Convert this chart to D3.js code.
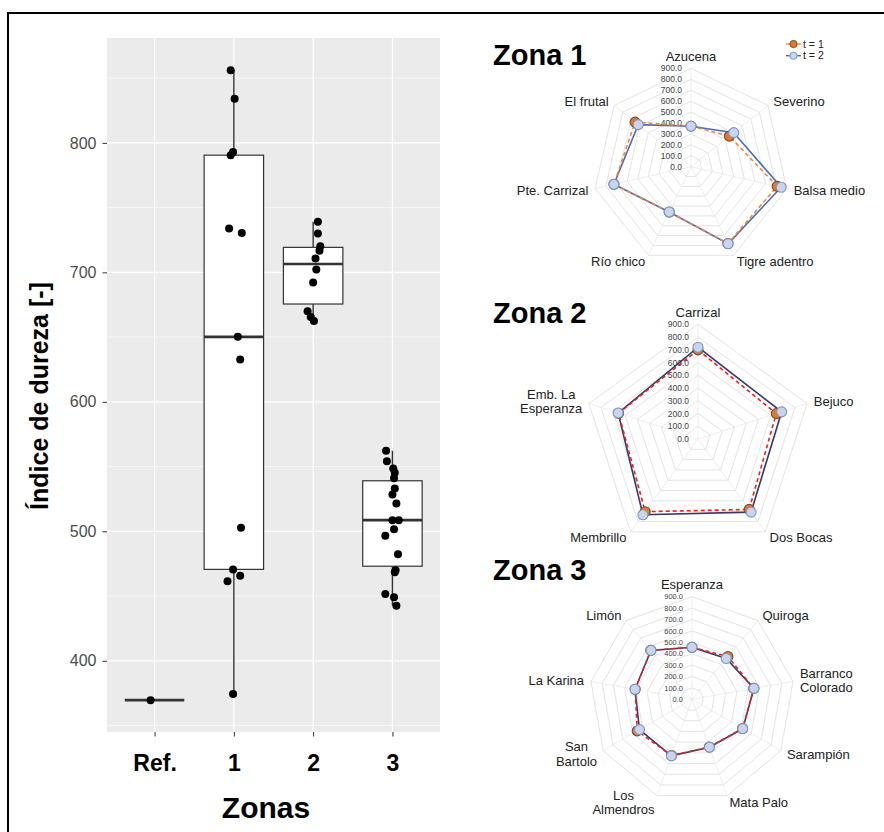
<!DOCTYPE html>
<html>
  <head>
    <meta charset="utf-8" />
    <title>Índice de dureza</title>
    <script src="https://cdn.jsdelivr.net/npm/d3@7"></script>
    <style>
      body { margin: 0; background: #fff; }
      text { font-family: "Liberation Sans", Arial, sans-serif; }
    </style>
  </head>
  <body>
    <svg width="884" height="832" id="mainsvg"></svg>
    <script>
      // ---- box plot data ----
      const zones = ["Ref.", "1", "2", "3"];
      const yTicks = [400, 500, 600, 700, 800];
      const hardnessRef = [369.6];
      const hardnessZ1 = [856, 834, 793, 790.5, 733.9, 730.3, 650.2, 632.7, 502.7, 470.6, 461.5, 465.6, 374.3];
      const hardnessZ2 = [739, 730, 720.2, 716.6, 710.7, 702.2, 692.2, 670, 665.6, 662.5];
      const hardnessZ3 = [562.2, 554.2, 548.6, 545.2, 541, 533.1, 528.5, 521.5, 508.6, 508.6, 501.5, 496.5, 482.2, 470, 468.3, 451.5, 449, 442.5];
      // horizontal jitter of each point, in category steps
      const jitterRef = [-0.05];
      const jitterZ1 = [-0.04, 0.01, -0.01, -0.04, -0.06, 0.1, 0.05, 0.08, 0.09, -0.01, -0.08, 0.08, -0.01];
      const jitterZ2 = [0.06, 0.06, 0.09, 0.08, 0.03, 0.04, 0.0, -0.07, -0.03, 0.01];
      const jitterZ3 = [-0.08, -0.07, 0.01, 0.03, 0.02, 0.03, 0.0, 0.05, 0.0, 0.08, 0.02, -0.09, 0.07, 0.04, 0.03, -0.09, 0.02, 0.05];

      // ---- radar data ----
      const radarTicks = [0, 100, 200, 300, 400, 500, 600, 700, 800, 900];
      const zona1Sites = ["Azucena", "Severino", "Balsa medio", "Tigre adentro", "Río chico", "Pte. Carrizal", "El frutal"];
      const zona1T1 = [371, 449, 809, 780, 460, 724, 655];
      const zona1T2 = [371, 500, 847, 783, 460, 724, 618];
      const zona2Sites = ["Carrizal", "Bejuco", "Dos Bocas", "Membrillo", "Emb. La\nEsperanza"];
      const zona2T1 = [699, 646, 683, 705, 655];
      const zona2T2 = [720, 690, 709, 735, 659];
      const zona3Sites = ["Esperanza", "Quiroga", "Barranco\nColorado", "Sarampión", "Mata Palo", "Los\nAlmendros", "San\nBartolo", "La Karina", "Limón"];
      const zona3T1 = [456, 490, 550, 512, 445, 525, 555, 506, 562];
      const zona3T2 = [456, 467, 552, 514, 447, 528, 532, 508, 560];
      const seriesNames = ["t = 1", "t = 2"];

      const svg = d3.select("#mainsvg");

      // frame
      svg.append("path").attr("d", "M8,832V13H884").attr("fill", "none").attr("stroke", "#000").attr("stroke-width", 2);

      // ================= box plot =================
      const panel = { left: 107, right: 440, top: 38, bottom: 732 };
      const x = d3.scalePoint().domain(zones).range([panel.left, panel.right]).padding(0.6);
      const y = d3.scaleLinear().domain([345, 881]).range([panel.bottom, panel.top]);
      const step = x.step();
      const boxW = step * 0.75;

      const g = svg.append("g");
      g.append("rect")
        .attr("x", panel.left).attr("y", panel.top)
        .attr("width", panel.right - panel.left).attr("height", panel.bottom - panel.top)
        .attr("fill", "#ebebeb");

      const minor = d3.range(350, 900, 100);
      g.selectAll(".minor").data(minor).join("line")
        .attr("x1", panel.left).attr("x2", panel.right)
        .attr("y1", (d) => y(d)).attr("y2", (d) => y(d))
        .attr("stroke", "#fff").attr("stroke-width", 0.6);
      g.selectAll(".majorY").data(yTicks).join("line")
        .attr("x1", panel.left).attr("x2", panel.right)
        .attr("y1", (d) => y(d)).attr("y2", (d) => y(d))
        .attr("stroke", "#fff").attr("stroke-width", 1.2);
      g.selectAll(".majorX").data(zones).join("line")
        .attr("x1", (d) => x(d)).attr("x2", (d) => x(d))
        .attr("y1", panel.top).attr("y2", panel.bottom)
        .attr("stroke", "#fff").attr("stroke-width", 1.2);

      const groups = [
        { zone: "Ref.", values: hardnessRef, jitter: jitterRef },
        { zone: "1", values: hardnessZ1, jitter: jitterZ1 },
        { zone: "2", values: hardnessZ2, jitter: jitterZ2 },
        { zone: "3", values: hardnessZ3, jitter: jitterZ3 },
      ];

      groups.forEach((grp) => {
        const s = grp.values.slice().sort(d3.ascending);
        const q1 = d3.quantile(s, 0.25), med = d3.quantile(s, 0.5), q3 = d3.quantile(s, 0.75);
        const iqr = q3 - q1;
        const lo = d3.min(s.filter((v) => v >= q1 - 1.5 * iqr));
        const hi = d3.max(s.filter((v) => v <= q3 + 1.5 * iqr));
        const cx = x(grp.zone);
        g.append("line").attr("x1", cx).attr("x2", cx).attr("y1", y(q3)).attr("y2", y(hi))
          .attr("stroke", "#333").attr("stroke-width", 1.4);
        g.append("line").attr("x1", cx).attr("x2", cx).attr("y1", y(q1)).attr("y2", y(lo))
          .attr("stroke", "#333").attr("stroke-width", 1.4);
        g.append("rect").attr("x", cx - boxW / 2).attr("width", boxW)
          .attr("y", y(q3)).attr("height", y(q1) - y(q3))
          .attr("fill", "#fff").attr("stroke", "#333").attr("stroke-width", 1.2);
        g.append("line").attr("x1", cx - boxW / 2).attr("x2", cx + boxW / 2)
          .attr("y1", y(med)).attr("y2", y(med))
          .attr("stroke", "#333").attr("stroke-width", 2.6);
        grp.values.forEach((v, i) => {
          g.append("circle")
            .attr("cx", cx + grp.jitter[i] * step).attr("cy", y(v))
            .attr("r", 4).attr("fill", "#000");
        });
      });

      const yAxis = g.append("g").attr("transform", `translate(${panel.left},0)`)
        .call(d3.axisLeft(y).tickValues(yTicks).tickSize(4.5).tickPadding(6));
      yAxis.select(".domain").remove();
      yAxis.selectAll("line").attr("stroke", "#333");
      yAxis.selectAll("text").attr("font-size", 16).attr("fill", "#4d4d4d")
        .attr("font-family", "Liberation Sans, Arial, sans-serif");

      const xAxis = g.append("g").attr("transform", `translate(0,${panel.bottom})`)
        .call(d3.axisBottom(x).tickSize(4.5).tickPadding(18));
      xAxis.select(".domain").remove();
      xAxis.selectAll("line").attr("stroke", "#333");
      xAxis.selectAll("text").attr("font-size", 23).attr("font-weight", "bold").attr("fill", "#000")
        .attr("font-family", "Liberation Sans, Arial, sans-serif");

      g.append("text").text("Índice de dureza [-]")
        .attr("transform", "rotate(-90)")
        .attr("x", -396).attr("y", 48)
        .attr("text-anchor", "middle").attr("font-size", 25).attr("font-weight", "bold");
      g.append("text").text("Zonas")
        .attr("x", 266).attr("y", 818)
        .attr("text-anchor", "middle").attr("font-size", 30).attr("font-weight", "bold");

      // ================= radar charts =================
      function radar(opt) {
        const rg = svg.append("g");
        const n = opt.sites.length;
        const r = d3.scaleLinear().domain([0, 900]).range([0, opt.r]);
        const ang = (i) => (i * 2 * Math.PI) / n;
        const poly = d3.lineRadial().angle((d, i) => ang(i)).radius((d) => r(d)).curve(d3.curveLinearClosed);
        const inner = rg.append("g").attr("transform", `translate(${opt.cx},${opt.cy})`);

        radarTicks.slice(1).forEach((t) => {
          inner.append("path").attr("d", poly(opt.sites.map(() => t)))
            .attr("fill", "none").attr("stroke", "#dcdcdc").attr("stroke-width", 0.8);
        });
        opt.sites.forEach((s, i) => {
          inner.append("line").attr("x1", 0).attr("y1", 0)
            .attr("x2", Math.sin(ang(i)) * opt.r).attr("y2", -Math.cos(ang(i)) * opt.r)
            .attr("stroke", "#e6e6e6").attr("stroke-width", 0.7);
        });
        radarTicks.forEach((t) => {
          inner.append("text").text(t.toFixed(1))
            .attr("x", -9).attr("y", -r(t)).attr("dy", "0.35em")
            .attr("text-anchor", "end").attr("font-size", opt.tickFont).attr("fill", "#444");
        });

        inner.append("path").attr("d", poly(opt.t2)).attr("fill", "none")
          .attr("stroke", opt.c2).attr("stroke-width", 1.6);
        inner.append("path").attr("d", poly(opt.t1)).attr("fill", "none")
          .attr("stroke", opt.c1).attr("stroke-width", 1.6).attr("stroke-dasharray", "4,3");
        [[opt.t1, "#e2782c", "#7a4a26"], [opt.t2, "#c8d5ec", "#7b96c8"]].forEach(([vals, fill, stroke]) => {
          vals.forEach((v, i) => {
            inner.append("circle")
              .attr("cx", Math.sin(ang(i)) * r(v)).attr("cy", -Math.cos(ang(i)) * r(v))
              .attr("r", 5).attr("fill", fill).attr("stroke", stroke).attr("stroke-width", 1.1);
          });
        });

        opt.sites.forEach((s, i) => {
          const dx = Math.sin(ang(i)), dy = -Math.cos(ang(i));
          const mid = Math.abs(dx) < 0.1;
          const R = opt.r + (mid && dy < 0 ? 12 : 7);
          const px = dx * R, py = dy * R;
          const lines = s.split("\n");
          const t = inner.append("text").attr("font-size", 13).attr("fill", "#222");
          lines.forEach((ln, k) => {
            t.append("tspan").text(ln).attr("x", 0)
              .attr("y", py + (k - (lines.length - 1) / 2) * 14.5).attr("dy", "0.35em");
          });
          if (mid) {
            t.attr("text-anchor", "middle").selectAll("tspan").attr("x", px);
          } else if (lines.length === 1) {
            t.attr("text-anchor", dx > 0 ? "start" : "end").selectAll("tspan").attr("x", px);
          } else {
            const w = d3.max(t.selectAll("tspan").nodes(), (nd) => nd.getComputedTextLength());
            const bx = dx > 0 ? px + w / 2 : px - w / 2;
            t.attr("text-anchor", "middle").selectAll("tspan").attr("x", bx);
          }
        });

        svg.append("text").text(opt.title).attr("x", 493).attr("y", opt.titleY)
          .attr("font-size", 29).attr("font-weight", "bold").attr("fill", "#000");
      }

      radar({ title: "Zona 1", titleY: 65, cx: 691, cy: 166.7, r: 98.3, tickFont: 8.5,
        sites: zona1Sites, t1: zona1T1, t2: zona1T2, c1: "#f0883a", c2: "#4a6bbf" });
      radar({ title: "Zona 2", titleY: 323, cx: 698, cy: 439, r: 114.7, tickFont: 8.5,
        sites: zona2Sites, t1: zona2T1, t2: zona2T2, c1: "#f0201a", c2: "#2e3c70" });
      radar({ title: "Zona 3", titleY: 580, cx: 692, cy: 699.3, r: 102.6, tickFont: 7.5,
        sites: zona3Sites, t1: zona3T1, t2: zona3T2, c1: "#f0201a", c2: "#2e3c70" });

      // legend (Zona 1)
      const legend = svg.append("g").attr("transform", "translate(786,44)");
      [["#f0883a", "#e2782c", "#7a4a26"], ["#4a6bbf", "#c8d5ec", "#7b96c8"]].forEach(([lc, fill, stroke], i) => {
        const row = legend.append("g").attr("transform", `translate(0,${i * 11.7})`);
        row.append("line").attr("x1", 0).attr("x2", 15).attr("stroke", lc).attr("stroke-width", 1.4);
        row.append("circle").attr("cx", 7.5).attr("r", 3.6).attr("fill", fill).attr("stroke", stroke).attr("stroke-width", 1);
        row.append("text").text(seriesNames[i]).attr("x", 17).attr("dy", "0.35em")
          .attr("font-size", 10.5).attr("fill", "#222");
      });
    </script>
  </body>
</html>
